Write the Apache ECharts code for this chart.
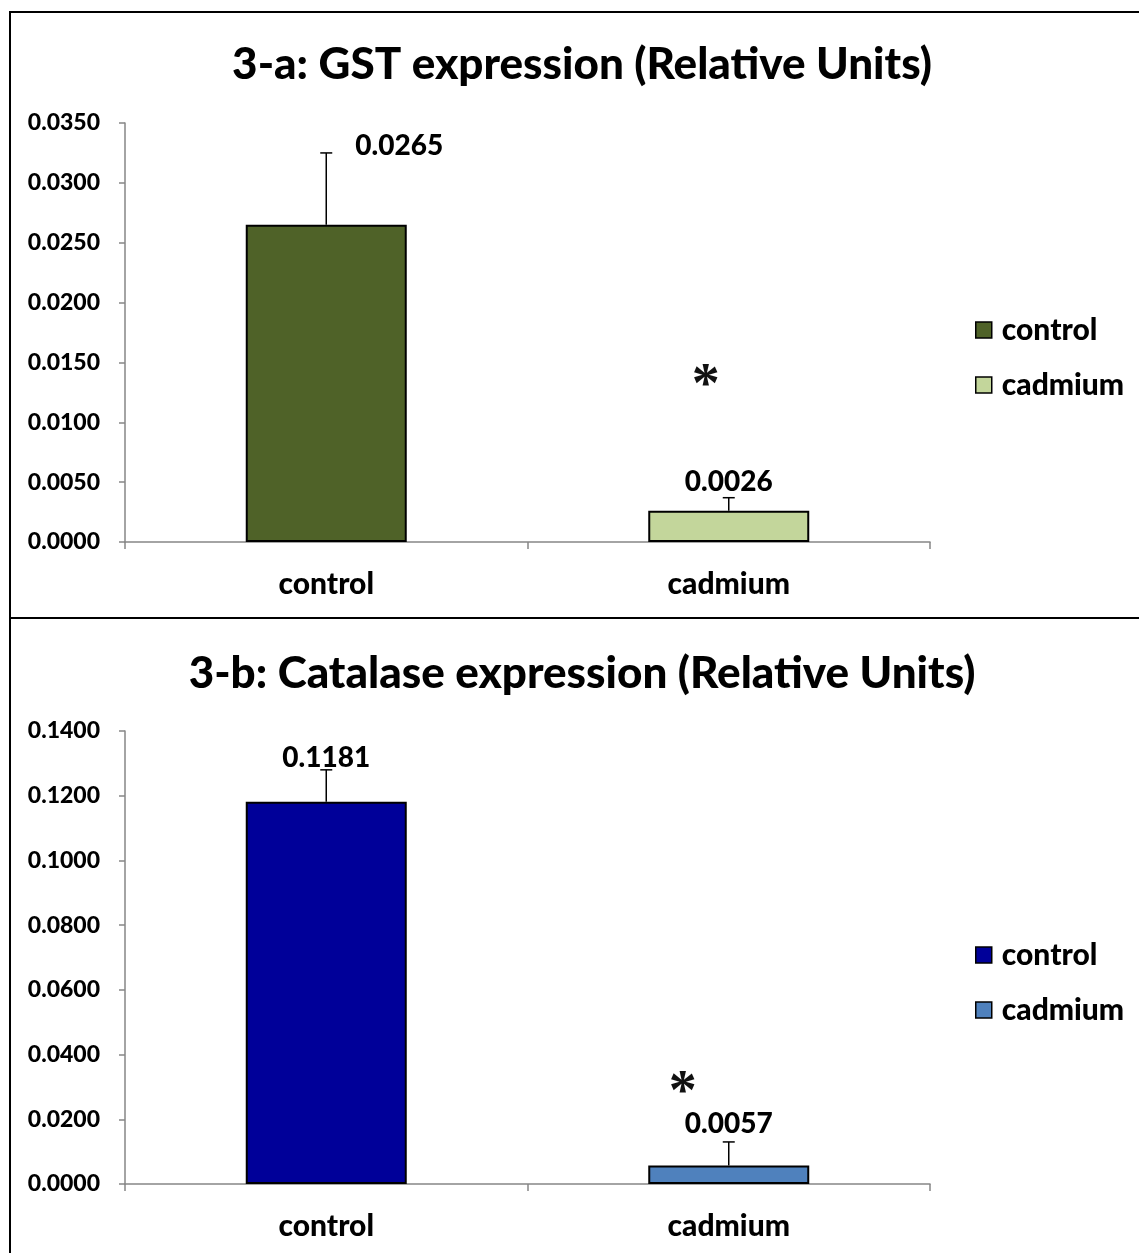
<!DOCTYPE html>
<html><head><meta charset="utf-8">
<script src="https://cdn.jsdelivr.net/npm/echarts@6/dist/echarts.min.js"></script>
<style>
html,body{margin:0;padding:0;background:#fff;width:1139px;height:1253px;overflow:hidden;}
#frame{position:absolute;left:9px;top:11px;width:1130px;height:1242px;border-left:2px solid #000;border-top:2px solid #000;}
#divider{position:absolute;left:9px;top:617px;width:1130px;height:0;border-top:2px solid #000;}
#c1{position:absolute;left:0;top:0;width:1139px;height:617px;}
#c2{position:absolute;left:0;top:619px;width:1139px;height:634px;}
</style></head>
<body>
<div id="frame"></div>
<div id="divider"></div>
<div id="c1"></div>
<div id="c2"></div>
<script>
const categories = ['control', 'cadmium'];
// Chart 3-a GST
const gstTitle = '3-a: GST expression (Relative Units)';
const gstValues = [0.0265, 0.0026];
const gstErrors = [0.0060, 0.0011];
const gstStarY = [null, 0.0138];
const gstAxis = {min: 0, max: 0.035, interval: 0.005};
// Chart 3-b Catalase
const catTitle = '3-b: Catalase expression (Relative Units)';
const catValues = [0.1181, 0.0057];
const catErrors = [0.0099, 0.0073];
const catStarY = [null, 0.0312];
const catAxis = {min: 0, max: 0.14, interval: 0.02};

const FONT = 'Lato, "Open Sans", sans-serif';
const W = 900;

function build(title, values, errors, starY, axis, colors, lay) {
  const mk = (i) => values.map((v, j) => j === i ? v : '-');
  const barSeries = categories.map((name, i) => ({
    name: name, type: 'bar', barWidth: 161, barGap: '-100%',
    itemStyle: {color: colors[i], borderColor: '#000', borderWidth: 2},
    data: mk(i).map((v) => v === '-' ? '-' : {value: v}),
    label: {
      show: true, position: 'top', distance: 5,
      offset: lay.labelOffsets[i],
      fontFamily: FONT, fontWeight: W, fontSize: 28, color: '#000',
      formatter: (p) => (+p.value).toFixed(4)
    },
    z: 2
  }));
  const errSeries = {
    type: 'custom', silent: true, z: 5,
    data: values.map((v, i) => [i, v, v + errors[i]]),
    renderItem: (params, api) => {
      const x = api.value(0);
      const p0 = api.coord([x, api.value(1)]);
      const p1 = api.coord([x, api.value(2)]);
      const st = {stroke: '#000', lineWidth: 1.5};
      return {type: 'group', children: [
        {type: 'line', shape: {x1: p0[0], y1: p0[1], x2: p1[0], y2: p1[1]}, style: st},
        {type: 'line', shape: {x1: p1[0] - 6, y1: p1[1], x2: p1[0] + 6, y2: p1[1]}, style: st}
      ]};
    }
  };
  const starSeries = {
    type: 'custom', silent: true, z: 6,
    data: starY.map((y, i) => y == null ? null : [i, y]).filter(d => d),
    renderItem: (params, api) => {
      const p = api.coord([api.value(0), api.value(1)]);
      return {type: 'text', x: p[0] + lay.starDx, y: p[1] + 11,
        style: {text: '*', fill: '#111', font: 'bold 56px "Liberation Serif", serif', align: 'center', verticalAlign: 'middle'}};
    }
  };
  return {
    animation: false,
    backgroundColor: 'transparent',
    title: {text: title, left: 577, top: lay.titleTop, textAlign: 'center',
      textStyle: {fontFamily: FONT, fontWeight: W, fontSize: 44, color: '#000', lineHeight: 52}},
    legend: {
      orient: 'vertical', left: 970, top: lay.legendTop, itemWidth: 16, itemHeight: 16, itemGap: 25,
      icon: 'rect', data: categories,
      itemStyle: {borderColor: '#000', borderWidth: 1.5},
      textStyle: {fontFamily: FONT, fontWeight: W, fontSize: 30, color: '#000', lineHeight: 27, padding: [0, 0, 0, 5]}
    },
    grid: {left: 125, width: 805, top: lay.gridTop, height: lay.gridHeight, containLabel: false},
    xAxis: {
      type: 'category', data: categories,
      axisLine: {lineStyle: {color: '#868686', width: 1.5}},
      axisTick: {show: true, length: 7, alignWithLabel: false, lineStyle: {color: '#868686', width: 1.5}},
      axisLabel: {margin: 27, fontFamily: FONT, fontWeight: W, fontSize: 30, color: '#000'},
      splitLine: {show: false}
    },
    yAxis: {
      type: 'value', min: axis.min, max: axis.max, interval: axis.interval,
      axisLine: {show: true, lineStyle: {color: '#868686', width: 1.5}},
      axisTick: {show: true, length: 6, inside: false, lineStyle: {color: '#868686', width: 1.5}},
      splitLine: {show: false},
      axisLabel: {margin: 25, fontFamily: FONT, fontWeight: W, fontSize: 23, color: '#000',
        formatter: (v) => v.toFixed(4)}
    },
    series: [...barSeries, errSeries, starSeries]
  };
}

const c1 = echarts.init(document.getElementById('c1'));
c1.setOption(build(gstTitle, gstValues, gstErrors, gstStarY, gstAxis, ['#4F6228', '#C3D69B'], {
  titleTop: 34, legendTop: 310, gridTop: 123, gridHeight: 419, starDx: -23,
  labelOffsets: [[73, -60], [0, -10]]
}));
const c2 = echarts.init(document.getElementById('c2'));
c2.setOption(build(catTitle, catValues, catErrors, catStarY, catAxis, ['#000099', '#4F81BD'], {
  titleTop: 24, legendTop: 316, gridTop: 112, gridHeight: 453, starDx: -46,
  labelOffsets: [[0, -25], [0, -23]]
}));
</script>
</body></html>
